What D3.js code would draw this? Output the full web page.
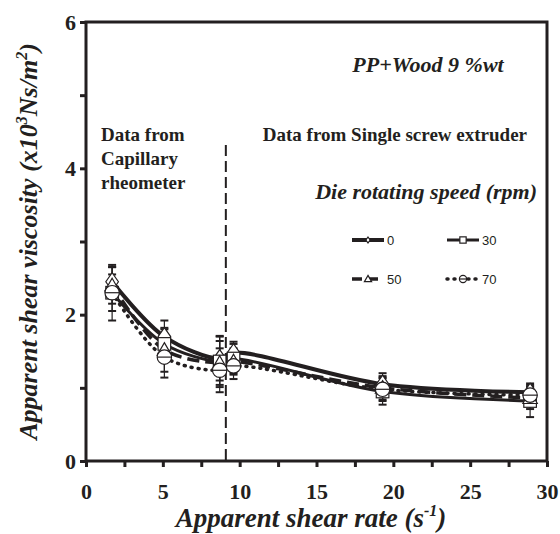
<!DOCTYPE html>
<html>
<head>
<meta charset="utf-8">
<script src="https://cdn.jsdelivr.net/npm/d3@7"></script>
<style>
  body { margin: 0; background: #fff; }
  text { fill: #231f20; }
</style>
</head>
<body>
<script>
const width = 560;
const height = 534;

// shear rate (1/s) and viscosity (x10^3 Ns/m2) for each die speed
const shearRate = [1.7, 5.1, 8.7, 9.6, 19.3, 28.9];
const rpm0  = [2.45, 1.70, 1.40, 1.48, 1.05, 0.94];
const rpm30 = [2.30, 1.60, 1.36, 1.40, 0.95, 0.82];
const rpm50 = [2.40, 1.52, 1.34, 1.36, 1.00, 0.86];
const rpm70 = [2.30, 1.42, 1.24, 1.30, 0.98, 0.90];
const err0  = [0.20, 0.22, 0.30, 0.15, 0.15, 0.12];
const err30 = [0.38, 0.20, 0.35, 0.20, 0.18, 0.22];
const err50 = [0.25, 0.30, 0.30, 0.18, 0.16, 0.15];
const err70 = [0.25, 0.28, 0.30, 0.18, 0.16, 0.12];
const xTicks = [0, 5, 10, 15, 20, 25, 30];
const yTicks = [0, 2, 4, 6];
const dividerX = 9.1;

const series = [
  {name: "0",  values: rpm0,  err: err0,  dash: null,   width: 4,   marker: "diamond"},
  {name: "30", values: rpm30, err: err30, dash: null,   width: 3,   marker: "square"},
  {name: "50", values: rpm50, err: err50, dash: "12,6", width: 3.5, marker: "triangle"},
  {name: "70", values: rpm70, err: err70, dash: "1,6",  width: 3.5, marker: "circle"}
];

const margin = {left: 86, right: 13, top: 22, bottom: 73};
const x = d3.scaleLinear().domain([0, 30]).range([margin.left, width - margin.right]);
const y = d3.scaleLinear().domain([0, 6]).range([height - margin.bottom, margin.top]);

const svg = d3.select("body").append("svg")
    .attr("width", width)
    .attr("height", height);

const serif = "'Liberation Serif', 'Times New Roman', serif";
const sans = "'Liberation Sans Narrow', 'Liberation Sans', Arial, sans-serif";

// frame
svg.append("rect")
    .attr("x", x(0)).attr("y", y(6))
    .attr("width", x(30) - x(0)).attr("height", y(0) - y(6))
    .attr("fill", "none").attr("stroke", "#231f20").attr("stroke-width", 3);

// axes
const xAxis = svg.append("g")
    .attr("transform", `translate(0,${y(0)})`)
    .call(d3.axisBottom(x).tickValues(d3.range(0, 30.1, 2.5)).tickSize(6)
        .tickFormat(d => xTicks.includes(d) ? d : ""));
const yAxis = svg.append("g")
    .attr("transform", `translate(${x(0)},0)`)
    .call(d3.axisLeft(y).tickValues(d3.range(0, 6.1, 1)).tickSize(6)
        .tickFormat(d => yTicks.includes(d) ? d : ""));
[xAxis, yAxis].forEach(g => {
  g.select(".domain").remove();
  g.selectAll(".tick line").attr("stroke", "#231f20").attr("stroke-width", 3);
  g.selectAll(".tick text")
      .style("font-family", serif).style("font-weight", "bold").style("font-size", "22px")
      .attr("fill", "#231f20");
});
xAxis.selectAll(".tick text").attr("dy", "1.3em");
yAxis.selectAll(".tick text").attr("x", -10);

// divider
svg.append("line")
    .attr("x1", x(dividerX)).attr("x2", x(dividerX))
    .attr("y1", 145).attr("y2", y(0))
    .attr("stroke", "#231f20").attr("stroke-width", 2).attr("stroke-dasharray", "11,5");

// lines
const line = d3.line().x((d, i) => x(shearRate[i])).y(d => y(d)).curve(d3.curveCatmullRom);
series.forEach(s => {
  svg.append("path")
      .datum(s.values)
      .attr("d", line)
      .attr("fill", "none")
      .attr("stroke", "#231f20")
      .attr("stroke-width", s.width)
      .attr("stroke-linecap", s.dash === "1,6" ? "round" : "butt")
      .attr("stroke-dasharray", s.dash);
});

// error bars
series.forEach(s => {
  const g = svg.append("g").attr("stroke", "#231f20").attr("stroke-width", 1.2);
  s.values.forEach((v, i) => {
    const cx = x(shearRate[i]);
    g.append("line").attr("x1", cx).attr("x2", cx).attr("y1", y(v + s.err[i])).attr("y2", y(v - s.err[i]));
    [v + s.err[i], v - s.err[i]].forEach(e => {
      g.append("line").attr("x1", cx - 4).attr("x2", cx + 4).attr("y1", y(e)).attr("y2", y(e)).attr("stroke-width", 2);
    });
  });
});

// markers
function marker(g, type, cx, cy, size) {
  const attrs = {fill: "white", stroke: "#231f20", "stroke-width": 1.2};
  let el;
  if (type === "diamond") {
    el = g.append("path").attr("d", `M${cx},${cy - size}L${cx + size * 0.7},${cy}L${cx},${cy + size}L${cx - size * 0.7},${cy}Z`);
  } else if (type === "square") {
    el = g.append("rect").attr("x", cx - size * 0.7).attr("y", cy - size * 0.7).attr("width", size * 1.4).attr("height", size * 1.4);
  } else if (type === "triangle") {
    el = g.append("path").attr("d", `M${cx},${cy - size * 0.8}L${cx + size * 0.8},${cy + size * 0.6}L${cx - size * 0.8},${cy + size * 0.6}Z`);
  } else {
    el = g.append("circle").attr("cx", cx).attr("cy", cy).attr("r", size * 0.8);
    g.append("line").attr("x1", cx - size * 0.8).attr("x2", cx + size * 0.8).attr("y1", cy).attr("y2", cy)
        .attr("stroke", "#231f20").attr("stroke-width", 1.2);
  }
  Object.entries(attrs).forEach(([k, v]) => el.attr(k, v));
}
series.forEach(s => {
  const g = svg.append("g");
  s.values.forEach((v, i) => marker(g, s.marker, x(shearRate[i]), y(v), 9));
});

// legend
const legendPos = [[352, 240], [447, 240], [352, 279], [447, 279]];
series.forEach((s, i) => {
  const [lx, ly] = legendPos[i];
  svg.append("line")
      .attr("x1", lx).attr("x2", lx + 32).attr("y1", ly).attr("y2", ly)
      .attr("stroke", "#231f20").attr("stroke-width", s.width)
      .attr("stroke-linecap", s.dash === "1,6" ? "round" : "butt")
      .attr("stroke-dasharray", s.dash === "12,6" ? "10,6" : s.dash);
  const g = svg.append("g");
  marker(g, s.marker, lx + 16, ly, s.marker === "diamond" ? 3 : 4.5);
  svg.append("text")
      .attr("x", lx + 35).attr("y", ly + 5)
      .style("font-family", sans).style("font-size", "13px")
      .text(s.name);
});

// annotations
svg.append("text")
    .attr("x", 428).attr("y", 72).attr("text-anchor", "middle")
    .style("font-family", serif).style("font-weight", "bold").style("font-style", "italic").style("font-size", "22px")
    .text("PP+Wood 9 %wt");
svg.append("text")
    .attr("x", 527).attr("y", 141).attr("text-anchor", "end")
    .style("font-family", serif).style("font-weight", "bold").style("font-size", "19px")
    .text("Data from Single screw extruder");
svg.append("text")
    .attr("x", 537).attr("y", 199).attr("text-anchor", "end")
    .style("font-family", serif).style("font-weight", "bold").style("font-style", "italic").style("font-size", "22px")
    .text("Die rotating speed (rpm)");
const capLines = ["Data from", "Capillary", "rheometer"];
svg.append("text")
    .style("font-family", serif).style("font-weight", "bold").style("font-size", "19px")
    .selectAll("tspan").data(capLines).enter().append("tspan")
    .attr("x", 101).attr("y", (d, i) => 141 + i * 24)
    .text(d => d);

// axis titles
const xt = svg.append("text")
    .attr("x", 311).attr("y", 527).attr("text-anchor", "middle")
    .style("font-family", serif).style("font-weight", "bold").style("font-style", "italic").style("font-size", "27px");
xt.append("tspan").text("Apparent shear rate (s");
xt.append("tspan").attr("dy", -11).style("font-size", "16px").text("-1");
xt.append("tspan").attr("dy", 11).text(")");

const yt = svg.append("text")
    .attr("transform", `translate(37,${(y(0) + y(6)) / 2}) rotate(-90)`)
    .attr("text-anchor", "middle")
    .style("font-family", serif).style("font-weight", "bold").style("font-style", "italic").style("font-size", "26px");
yt.append("tspan").text("Apparent shear viscosity (x10");
yt.append("tspan").attr("dy", -10).style("font-size", "16px").text("3");
yt.append("tspan").attr("dy", 10).text("Ns/m");
yt.append("tspan").attr("dy", -10).style("font-size", "16px").text("2");
yt.append("tspan").attr("dy", 10).text(")");
</script>
</body>
</html>
